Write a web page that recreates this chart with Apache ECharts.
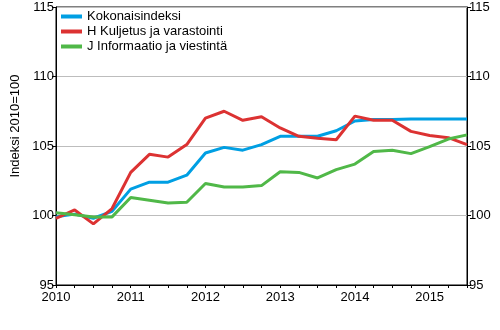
<!DOCTYPE html>
<html>
<head>
<meta charset="utf-8">
<script src="https://cdn.jsdelivr.net/npm/echarts@6/dist/echarts.min.js"></script>
<style>
  html, body { margin: 0; padding: 0; background: #fff; }
  #chart { width: 500px; height: 330px; }
</style>
</head>
<body>
<div id="chart"></div>
<script>
// Quarterly periods 2010Q1 .. 2015Q3
const quarters = [
  '2010Q1','2010Q2','2010Q3','2010Q4',
  '2011Q1','2011Q2','2011Q3','2011Q4',
  '2012Q1','2012Q2','2012Q3','2012Q4',
  '2013Q1','2013Q2','2013Q3','2013Q4',
  '2014Q1','2014Q2','2014Q3','2014Q4',
  '2015Q1','2015Q2','2015Q3'
];

const seriesNames = ['Kokonaisindeksi', 'H Kuljetus ja varastointi', 'J Informaatio ja viestintä'];

const kokonais = [99.9, 100.1, 99.8, 100.3, 101.9, 102.4, 102.4, 102.9, 104.5, 104.9, 104.7, 105.1,
  105.7, 105.7, 105.7, 106.1, 106.8, 106.9, 106.9, 106.95, 106.95, 106.95, 106.95];

const kuljetus = [99.8, 100.4, 99.4, 100.5, 103.1, 104.4, 104.2, 105.1, 107.0, 107.5, 106.85, 107.1,
  106.3, 105.7, 105.55, 105.45, 107.15, 106.85, 106.85, 106.05, 105.75, 105.6, 105.1];

const informaatio = [100.2, 100.05, 99.9, 99.9, 101.3, 101.1, 100.9, 100.95, 102.3, 102.05, 102.05, 102.15,
  103.15, 103.1, 102.7, 103.3, 103.7, 104.6, 104.7, 104.45, 104.95, 105.5, 105.8];

const yTicks = { min: 95, max: 115, step: 5 };
const colors = ['#009fe3', '#dc3232', '#50b848'];

const chart = echarts.init(document.getElementById('chart'), null, { renderer: 'canvas' });

const font = 'Liberation Sans, Arial, sans-serif';
const fontSize = 13;

function valueAxis(position) {
  return {
    type: 'value',
    position: position,
    min: yTicks.min,
    max: yTicks.max,
    interval: yTicks.step,
    axisLine: { show: true, lineStyle: { color: '#000', width: 1 } },
    axisTick: { show: true, length: 4, lineStyle: { color: '#000' } },
    axisLabel: { color: '#000', fontSize: fontSize, fontFamily: font, margin: 2 },
    splitLine: { show: position === 'left', lineStyle: { color: '#bdbdbd', width: 1 } }
  };
}

chart.setOption({
  animation: false,
  color: colors,
  grid: {
    left: 56, right: 33, top: 7, bottom: 45,
    show: true, borderColor: '#000', borderWidth: 1, backgroundColor: 'transparent'
  },
  legend: {
    orient: 'vertical',
    left: 61, top: 9, padding: 0,
    itemWidth: 21, itemHeight: 4, itemGap: 0,
    icon: 'rect',
    textStyle: { color: '#000', fontSize: fontSize, fontFamily: font, lineHeight: 15 },
    data: seriesNames
  },
  xAxis: {
    type: 'category',
    boundaryGap: false,
    data: quarters,
    axisLine: { show: true, lineStyle: { color: '#000', width: 1 } },
    axisTick: { show: true, interval: 0, length: 3, inside: false, lineStyle: { color: '#000' } },
    axisLabel: {
      interval: 3, color: '#000', fontSize: fontSize, fontFamily: font, margin: 6,
      formatter: v => v.slice(0, 4)
    },
    splitLine: { show: false }
  },
  yAxis: [valueAxis('left'), valueAxis('right')],
  graphic: [{
    type: 'text',
    x: 15, y: 126,
    rotation: Math.PI / 2,
    style: {
      text: 'Indeksi 2010=100',
      fill: '#000', fontSize: fontSize, fontFamily: font,
      align: 'center', verticalAlign: 'middle'
    }
  }],
  series: [
    { name: seriesNames[0], data: kokonais },
    { name: seriesNames[1], data: kuljetus },
    { name: seriesNames[2], data: informaatio }
  ].map(s => ({
    name: s.name, type: 'line', data: s.data,
    symbol: 'none', lineStyle: { width: 3 }, yAxisIndex: 0
  }))
});
</script>
</body>
</html>
